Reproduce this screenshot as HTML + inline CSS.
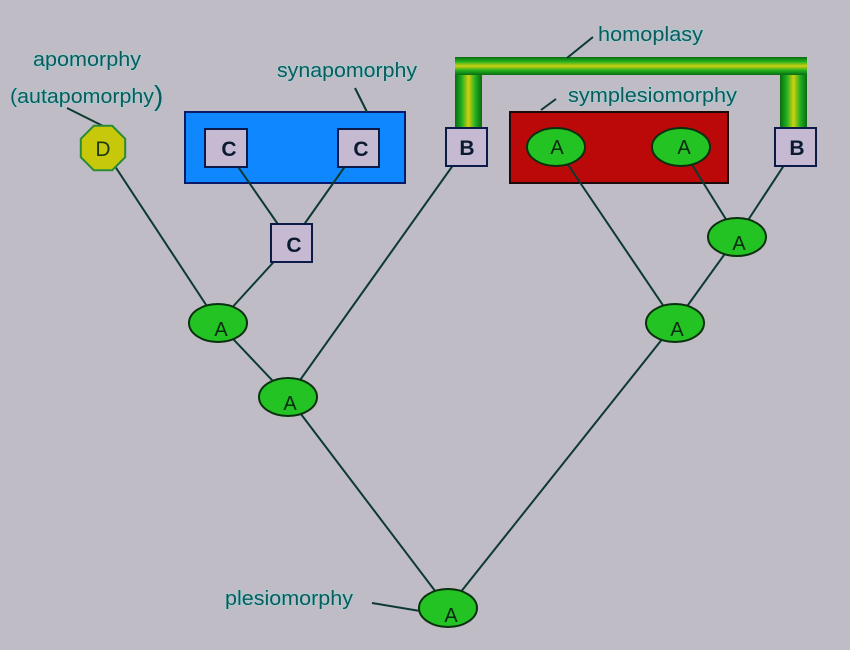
<!DOCTYPE html>
<html><head><meta charset="utf-8"><style>
html,body{margin:0;padding:0;background:#bfbcc5;}
svg{display:block;}
text{font-family:"Liberation Sans",Arial,sans-serif;}
.lbl{fill:#0b5a5c;font-size:20px;paint-order:stroke;stroke:#9ed4d6;stroke-width:1.2px;}
.ln{stroke:#0c3a32;stroke-width:2;fill:none;}
.ell{fill:#22c322;stroke:#0a3010;stroke-width:2;}
.box{fill:#c6b9d2;stroke:#0c1a4a;stroke-width:2;}
.bl{font-size:21px;font-weight:bold;fill:#0a1a30;text-anchor:middle;}
.al{font-size:20px;fill:#0a2a12;text-anchor:middle;}
</style></head><body>
<svg width="850" height="650" viewBox="0 0 850 650" xmlns="http://www.w3.org/2000/svg">
<defs>
<linearGradient id="gh" x1="0" y1="0" x2="0" y2="1">
<stop offset="0" stop-color="#0a6a10"/>
<stop offset="0.25" stop-color="#20b020"/>
<stop offset="0.5" stop-color="#d0d010"/>
<stop offset="0.75" stop-color="#20b020"/>
<stop offset="1" stop-color="#0a6a10"/>
</linearGradient>
<linearGradient id="gv" x1="0" y1="0" x2="1" y2="0">
<stop offset="0" stop-color="#0a6a10"/>
<stop offset="0.25" stop-color="#20b020"/>
<stop offset="0.5" stop-color="#d0d010"/>
<stop offset="0.75" stop-color="#20b020"/>
<stop offset="1" stop-color="#0a6a10"/>
</linearGradient>
</defs>
<rect width="850" height="650" fill="#bfbcc5"/>

<!-- group rects -->
<rect x="185" y="112" width="220" height="71" fill="#0f88ff" stroke="#0a1a6a" stroke-width="2"/>
<rect x="510" y="112" width="218" height="71" fill="#bb0808" stroke="#1a0a0a" stroke-width="2"/>

<!-- homoplasy bar -->
<rect x="455" y="74" width="27" height="56" fill="url(#gv)"/>
<rect x="780" y="74" width="27" height="56" fill="url(#gv)"/>
<rect x="455" y="57" width="352" height="18" fill="url(#gh)"/>

<!-- edges -->
<line class="ln" x1="103" y1="148" x2="218" y2="323"/>
<line class="ln" x1="291" y1="243" x2="218" y2="323"/>
<line class="ln" x1="225" y1="148" x2="291" y2="243"/>
<line class="ln" x1="358" y1="148" x2="291" y2="243"/>
<line class="ln" x1="218" y1="323" x2="288" y2="397"/>
<line class="ln" x1="466" y1="147" x2="288" y2="397"/>
<line class="ln" x1="288" y1="397" x2="448" y2="608"/>
<line class="ln" x1="448" y1="608" x2="675" y2="323"/>
<line class="ln" x1="675" y1="323" x2="556" y2="147"/>
<line class="ln" x1="675" y1="323" x2="737" y2="237"/>
<line class="ln" x1="737" y1="237" x2="681" y2="147"/>
<line class="ln" x1="737" y1="237" x2="796" y2="147"/>

<!-- leaders -->
<line class="ln" x1="67" y1="108" x2="103" y2="126"/>
<line class="ln" x1="355" y1="88" x2="367" y2="112"/>
<line class="ln" x1="567" y1="58" x2="593" y2="37"/>
<line class="ln" x1="541" y1="110" x2="556" y2="99"/>
<line class="ln" x1="372" y1="603" x2="420" y2="611"/>

<!-- D octagon -->
<polygon points="125.2,138.8 112.2,125.8 93.8,125.8 80.8,138.8 80.8,157.2 93.8,170.2 112.2,170.2 125.2,157.2" fill="#c8c80a" stroke="#2a8a3a" stroke-width="2"/>
<text x="103" y="156" class="al" style="font-size:21px;fill:#1a3a10">D</text>

<!-- C boxes -->
<rect class="box" x="205" y="129" width="42" height="38"/>
<text x="229" y="156" class="bl">C</text>
<rect class="box" x="338" y="129" width="41" height="38"/>
<text x="361" y="156" class="bl">C</text>
<rect class="box" x="271" y="224" width="41" height="38"/>
<text x="294" y="252" class="bl">C</text>

<!-- B boxes -->
<rect class="box" x="446" y="128" width="41" height="38"/>
<text x="467" y="155" class="bl">B</text>
<rect class="box" x="775" y="128" width="41" height="38"/>
<text x="797" y="155" class="bl">B</text>

<!-- A ellipses -->
<ellipse class="ell" cx="556" cy="147" rx="29" ry="19"/>
<text x="557" y="154" class="al">A</text>
<ellipse class="ell" cx="681" cy="147" rx="29" ry="19"/>
<text x="684" y="154" class="al">A</text>
<ellipse class="ell" cx="737" cy="237" rx="29" ry="19"/>
<text x="739" y="250" class="al">A</text>
<ellipse class="ell" cx="675" cy="323" rx="29" ry="19"/>
<text x="677" y="336" class="al">A</text>
<ellipse class="ell" cx="218" cy="323" rx="29" ry="19"/>
<text x="221" y="336" class="al">A</text>
<ellipse class="ell" cx="288" cy="397" rx="29" ry="19"/>
<text x="290" y="410" class="al">A</text>
<ellipse class="ell" cx="448" cy="608" rx="29" ry="19"/>
<text x="451" y="622" class="al">A</text>

<!-- labels -->
<text class="lbl" x="33" y="66" textLength="108" lengthAdjust="spacingAndGlyphs">apomorphy</text>
<text class="lbl" x="10" y="103" textLength="144" lengthAdjust="spacingAndGlyphs">(autapomorphy</text>
<text class="lbl" x="154" y="105" style="font-size:28px">)</text>
<text class="lbl" x="277" y="77" textLength="140" lengthAdjust="spacingAndGlyphs">synapomorphy</text>
<text class="lbl" x="598" y="41" textLength="105" lengthAdjust="spacingAndGlyphs">homoplasy</text>
<text class="lbl" x="568" y="102" textLength="169" lengthAdjust="spacingAndGlyphs">symplesiomorphy</text>
<text class="lbl" x="225" y="605" textLength="128" lengthAdjust="spacingAndGlyphs">plesiomorphy</text>
</svg>
</body></html>
